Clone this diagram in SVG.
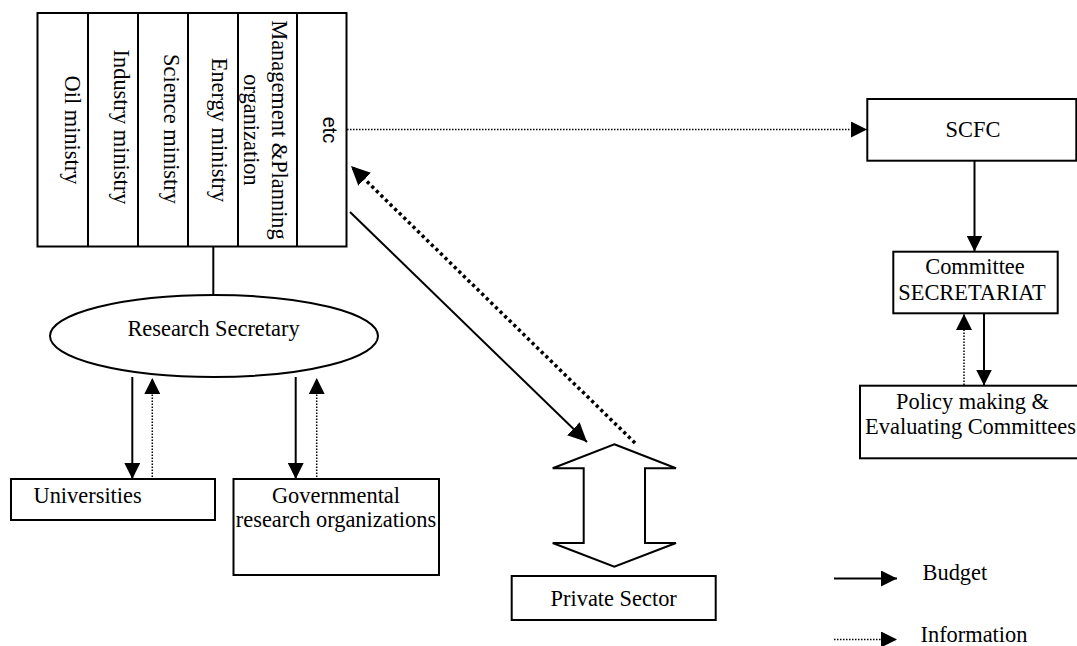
<svg xmlns="http://www.w3.org/2000/svg" width="1077" height="646" viewBox="0 0 1077 646">
<defs>
<style>
.box{fill:#fff;stroke:#000;stroke-width:2}
.t{font-family:"Liberation Serif","Times New Roman",serif;font-size:22.4px;fill:#000;text-anchor:middle}
.s{font-family:"Liberation Sans",Arial,sans-serif;font-size:20px;fill:#000;text-anchor:middle}
.solid{fill:none;stroke:#000;stroke-width:2}
.dot{fill:none;stroke:#000;stroke-width:1.5;stroke-dasharray:1.5 1.5}
.thickdot{fill:none;stroke:#000;stroke-width:3.5;stroke-dasharray:3.2 3.2}
</style>
<marker id="ah" markerUnits="userSpaceOnUse" markerWidth="17" markerHeight="16" refX="16" refY="8" orient="auto">
<path d="M0,0 L16,8 L0,16 z" fill="#000"/>
</marker>
<marker id="ahL" markerUnits="userSpaceOnUse" markerWidth="20" markerHeight="18" refX="19" refY="9" orient="auto">
<path d="M0,0 L19,9 L0,18 z" fill="#000"/>
</marker>
</defs>
<rect width="1077" height="646" fill="#fff"/>

<g id="connectors">
<line class="solid" x1="213.3" y1="246.5" x2="213.3" y2="295"/>
<line class="dot" x1="347" y1="129.5" x2="867" y2="129.5" marker-end="url(#ah)"/>
<line class="solid" x1="350" y1="212" x2="587" y2="442" marker-end="url(#ahL)"/>
<line class="thickdot" x1="635" y1="443" x2="351" y2="166" marker-end="url(#ahL)"/>
<line class="solid" x1="132.3" y1="377" x2="132.3" y2="479" marker-end="url(#ah)"/>
<line class="dot" x1="152.3" y1="477" x2="152.3" y2="378" marker-end="url(#ah)"/>
<line class="solid" x1="295.7" y1="377" x2="295.7" y2="479" marker-end="url(#ah)"/>
<line class="dot" x1="316.7" y1="477" x2="316.7" y2="378" marker-end="url(#ah)"/>
<line class="solid" x1="974.5" y1="161" x2="974.5" y2="251.5" marker-end="url(#ah)"/>
<line class="solid" x1="984" y1="313.5" x2="984" y2="385.5" marker-end="url(#ah)"/>
<line class="dot" x1="964" y1="385" x2="964" y2="314" marker-end="url(#ah)"/>
</g>

<g id="ministries">
<rect class="box" x="37.5" y="13" width="309" height="233.5"/>
<line class="solid" x1="88" y1="13" x2="88" y2="246.5"/>
<line class="solid" x1="138" y1="13" x2="138" y2="246.5"/>
<line class="solid" x1="188" y1="13" x2="188" y2="246.5"/>
<line class="solid" x1="238" y1="13" x2="238" y2="246.5"/>
<line class="solid" x1="297" y1="13" x2="297" y2="246.5"/>
<text class="t" transform="translate(65,130) rotate(90)">Oil ministry</text>
<text class="t" transform="translate(113.5,127) rotate(90)">Industry ministry</text>
<text class="t" transform="translate(164,129) rotate(90)">Science ministry</text>
<text class="t" transform="translate(212,130) rotate(90)">Energy ministry</text>
<text class="t" transform="translate(272,130) rotate(90)">Management &amp;Planning</text>
<text class="t" transform="translate(244,130) rotate(90)">organization</text>
<text class="s" transform="translate(323,130) rotate(90)">etc</text>
</g>

<g id="research-secretary">
<ellipse class="box" cx="214" cy="336" rx="164" ry="41"/>
<text class="t" x="213.5" y="335.5">Research Secretary</text>
</g>

<g id="universities">
<rect class="box" x="11" y="479" width="204" height="41"/>
<text class="t" x="33.5" y="503" style="text-anchor:start">Universities</text>
</g>

<g id="governmental">
<rect class="box" x="233.5" y="479" width="205.5" height="96"/>
<text class="t" x="336" y="503">Governmental</text>
<text class="t" x="336" y="527">research organizations</text>
</g>

<g id="private-arrow">
<path class="box" d="M614.3,444.3 L676,468.3 L645,468.3 L645,543 L676,543 L614.3,566.7 L552.7,543 L583.7,543 L583.7,468.3 L552.7,468.3 Z"/>
</g>

<g id="private-sector">
<rect class="box" x="511.7" y="576" width="204" height="44"/>
<text class="t" x="613.7" y="606">Private Sector</text>
</g>

<g id="scfc">
<rect class="box" x="867.3" y="99" width="209" height="61.7"/>
<text class="t" x="973" y="136.5">SCFC</text>
</g>

<g id="committee">
<rect class="box" x="893.3" y="251.7" width="164.4" height="61.6"/>
<text class="t" x="975" y="273.5">Committee</text>
<text class="t" x="972" y="300">SECRETARIAT</text>
</g>

<g id="policy">
<rect class="box" x="860" y="385.7" width="222" height="72.6"/>
<text class="t" x="972.5" y="408.5">Policy making &amp;</text>
<text class="t" x="970.5" y="433.5">Evaluating Committees</text>
</g>

<g id="legend">
<line class="solid" x1="834" y1="578.5" x2="897" y2="578.5" marker-end="url(#ah)"/>
<text class="t" x="922.5" y="580" style="text-anchor:start">Budget</text>
<line class="dot" x1="834" y1="639.5" x2="897" y2="639.5" marker-end="url(#ah)"/>
<text class="t" x="920.5" y="641.5" style="text-anchor:start">Information</text>
</g>
</svg>
